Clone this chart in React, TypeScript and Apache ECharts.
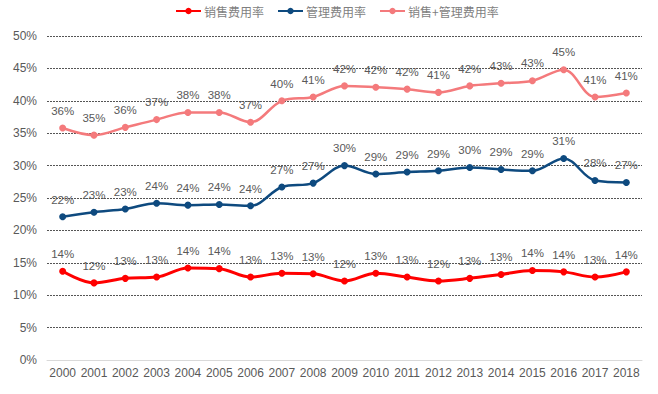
import React, { useEffect, useRef } from "react";
import * as echarts from "echarts";

const years = ["2000","2001","2002","2003","2004","2005","2006","2007","2008","2009","2010","2011","2012","2013","2014","2015","2016","2017","2018"];
const sales = [13.7, 11.9, 12.6, 12.8, 14.2, 14.1, 12.8, 13.4, 13.3, 12.2, 13.4, 12.8, 12.2, 12.6, 13.2, 13.8, 13.6, 12.8, 13.6];
const admin = [22.1, 22.8, 23.3, 24.2, 23.9, 24.0, 23.8, 26.7, 27.3, 30.0, 28.7, 29.0, 29.2, 29.7, 29.4, 29.2, 31.1, 27.7, 27.4];
const total = [35.8, 34.7, 35.9, 37.1, 38.2, 38.2, 36.7, 40.0, 40.6, 42.3, 42.1, 41.8, 41.3, 42.3, 42.7, 43.1, 44.8, 40.6, 41.2];
const seriesNames = ["销售费用率", "管理费用率", "销售+管理费用率"];
const colors = ["#FF0000", "#0E4A7F", "#F47A7C"];

const FONT = "'Liberation Sans', 'Noto Sans CJK SC', sans-serif";

export default function App() {
  const ref = useRef<HTMLDivElement>(null);
  useEffect(() => {
    if (!ref.current) return;
    const chart = echarts.init(ref.current, undefined, { renderer: "svg" });
    const mk = (name: string, data: number[], color: string, width: number) => ({
      name,
      type: "line",
      data,
      smooth: 0.35,
      symbol: "circle",
      symbolSize: 7,
      itemStyle: { color },
      lineStyle: { color, width },
      label: {
        show: true,
        position: "top",
        distance: 8,
        color: "#595959",
        fontSize: 11.5,
        fontFamily: FONT,
        formatter: (p: any) => Math.round(p.value) + "%",
      },
    });
    chart.setOption({
      animation: false,
      color: colors,
      legend: {
        top: 5,
        padding: 0,
        left: 175,
        itemWidth: 25,
        itemHeight: 8,
        itemGap: 13,
        textStyle: { color: "#7F7F7F", fontSize: 12, fontFamily: "'Noto Sans CJK SC', sans-serif", padding: [0, 0, 0, -2] },
        data: seriesNames,
      },
      grid: { left: 47, right: 16, top: 36, bottom: 34, containLabel: false },
      xAxis: {
        type: "category",
        data: years,
        boundaryGap: true,
        axisLine: { lineStyle: { color: "#D9D9D9", width: 1 } },
        axisTick: { show: false },
        axisLabel: { color: "#595959", fontSize: 12, fontFamily: FONT, margin: 7, interval: 0 },
      },
      yAxis: {
        type: "value",
        min: 0,
        max: 50,
        interval: 5,
        axisLine: { show: false },
        axisTick: { show: false },
        axisLabel: { color: "#595959", fontSize: 12, fontFamily: FONT, formatter: "{value}%", margin: 10 },
        splitLine: { lineStyle: { color: "#555555", type: [2, 1], width: 1 } },
      },
      series: [
        mk(seriesNames[0], sales, colors[0], 3),
        mk(seriesNames[1], admin, colors[1], 2.5),
        mk(seriesNames[2], total, colors[2], 2.5),
      ],
    });
    return () => chart.dispose();
  }, []);
  return <div ref={ref} style={{ position: "absolute", left: 0, top: 0, width: 658, height: 394 }} />;
}
